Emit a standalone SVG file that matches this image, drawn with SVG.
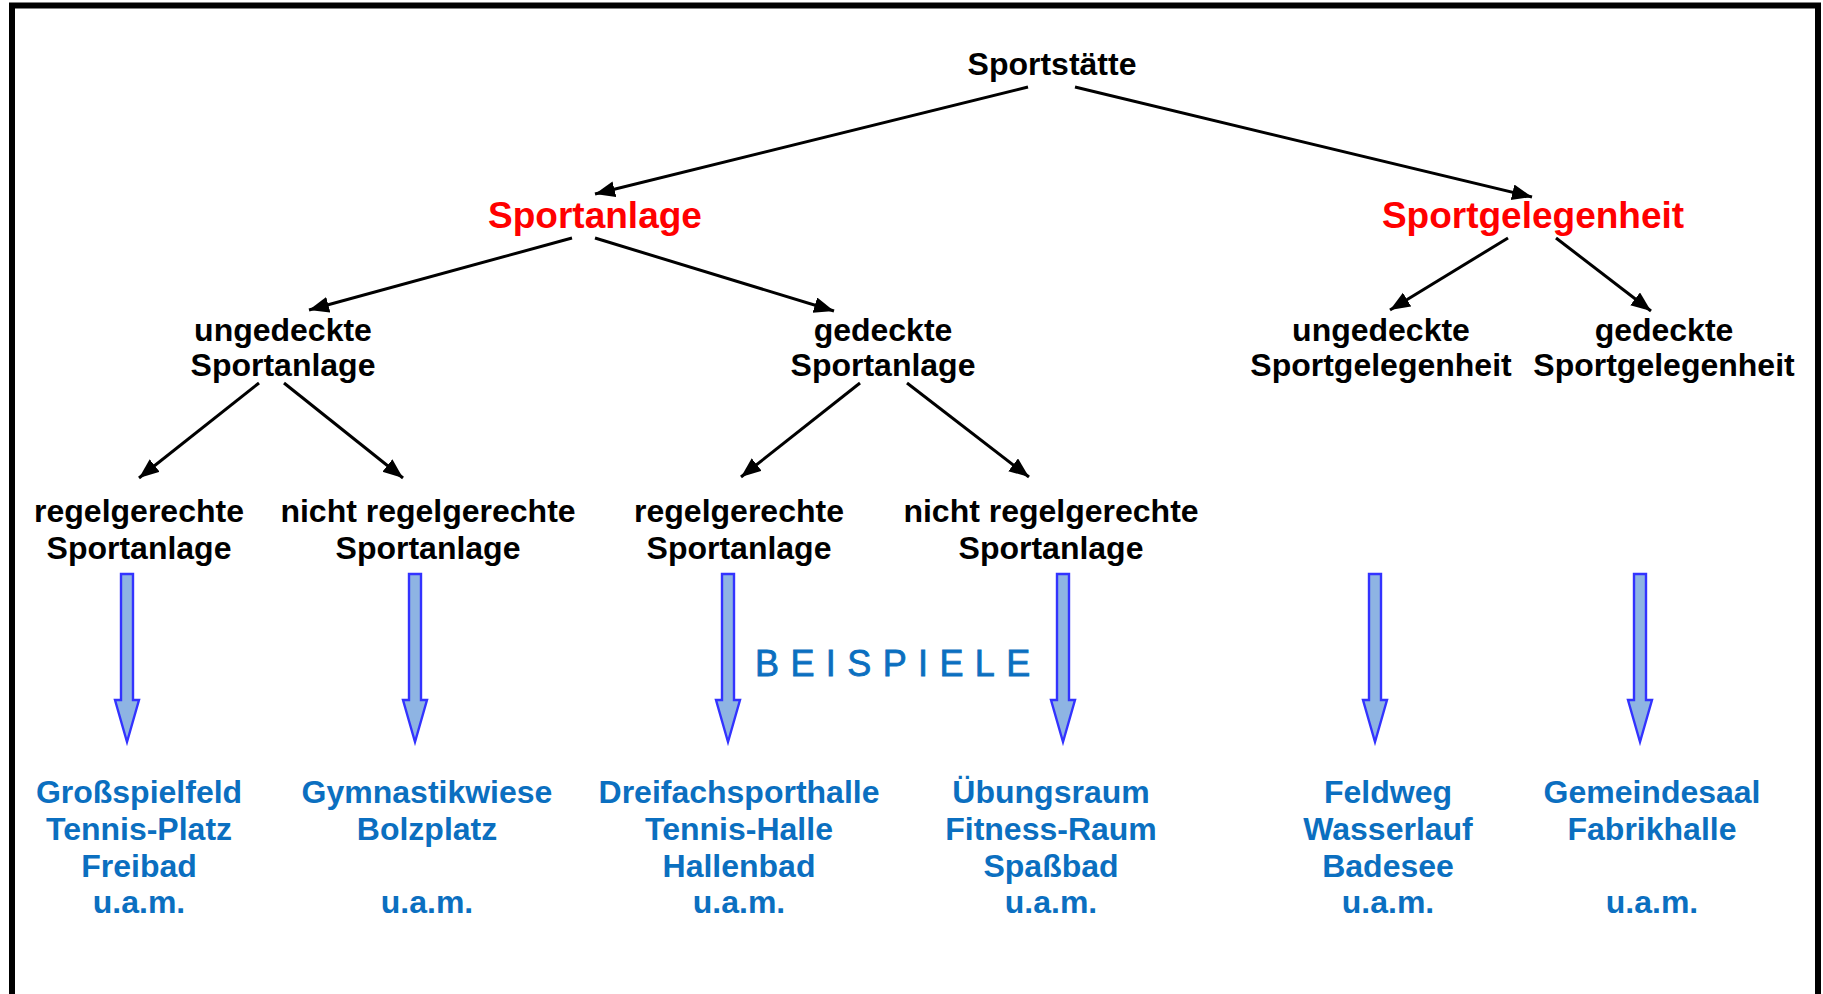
<svg xmlns="http://www.w3.org/2000/svg" width="1823" height="994" viewBox="0 0 1823 994">
  <style>
    text { font-family: "Liberation Sans", Arial, sans-serif; font-weight: bold; text-anchor: middle; }
    .lbl { font-size: 32px; fill: #000000; }
    .head { font-size: 37px; fill: #ff0000; }
    .ex { font-size: 32px; fill: #0b6fc0; }
    .beispiele { font-size: 36px; font-weight: normal; fill: #0b6fc0; stroke: #0b6fc0; stroke-width: 0.8; text-anchor: start; letter-spacing: 11.4px; }
    .edge { stroke: #000000; stroke-width: 3; fill: none; marker-end: url(#tip); }
    .down { fill: #8eb4e3; stroke: #3333ff; stroke-width: 2.4; stroke-linejoin: miter; }
  </style>
  <defs>
    <marker id="tip" markerUnits="userSpaceOnUse" markerWidth="22" markerHeight="18" refX="20" refY="8" orient="auto">
      <path d="M0,0 L20,8 L0,16 Z" fill="#000000"/>
    </marker>
    <path id="blockArrow" d="M-6,574 H6 V700 H12 L0,742 L-12,700 H-6 Z"/>
  </defs>

  <rect x="0" y="0" width="1823" height="994" fill="#ffffff"/>
  <!-- frame, open at the bottom -->
  <path d="M12,994 V5.5 H1818 V994" fill="none" stroke="#000000" stroke-width="6"/>

  <!-- tree connectors -->
  <g id="connectors">
    <line class="edge" x1="1028" y1="87" x2="595" y2="194"/>
    <line class="edge" x1="1075" y1="87" x2="1532" y2="197"/>
    <line class="edge" x1="572" y1="238" x2="309" y2="310"/>
    <line class="edge" x1="595" y1="238" x2="834" y2="311"/>
    <line class="edge" x1="1508" y1="238" x2="1390" y2="310"/>
    <line class="edge" x1="1556" y1="238" x2="1651" y2="311"/>
    <line class="edge" x1="259" y1="383" x2="139" y2="478"/>
    <line class="edge" x1="284" y1="383" x2="403" y2="478"/>
    <line class="edge" x1="860" y1="383" x2="741" y2="477"/>
    <line class="edge" x1="907" y1="383" x2="1029" y2="477"/>
    <!-- block arrows down to the examples -->
    <use href="#blockArrow" class="down" x="127"/>
    <use href="#blockArrow" class="down" x="415"/>
    <use href="#blockArrow" class="down" x="728"/>
    <use href="#blockArrow" class="down" x="1063"/>
    <use href="#blockArrow" class="down" x="1375"/>
    <use href="#blockArrow" class="down" x="1640"/>
  </g>

  <g id="n-sportstaette"><text class="lbl" x="1052" y="75">Sportstätte</text></g>
  <g id="n-sportanlage"><text class="head" x="595" y="228">Sportanlage</text></g>
  <g id="n-sportgelegenheit"><text class="head" x="1533" y="228">Sportgelegenheit</text></g>

  <g id="n-ungedeckte-sa"><text class="lbl" x="283" y="341">ungedeckte</text><text class="lbl" x="283" y="376">Sportanlage</text></g>
  <g id="n-gedeckte-sa"><text class="lbl" x="883" y="341">gedeckte</text><text class="lbl" x="883" y="376">Sportanlage</text></g>
  <g id="n-ungedeckte-sg"><text class="lbl" x="1381" y="341">ungedeckte</text><text class="lbl" x="1381" y="376">Sportgelegenheit</text></g>
  <g id="n-gedeckte-sg"><text class="lbl" x="1664" y="341">gedeckte</text><text class="lbl" x="1664" y="376">Sportgelegenheit</text></g>

  <g id="n-regel-u"><text class="lbl" x="139" y="522">regelgerechte</text><text class="lbl" x="139" y="559">Sportanlage</text></g>
  <g id="n-nichtregel-u"><text class="lbl" x="428" y="522">nicht regelgerechte</text><text class="lbl" x="428" y="559">Sportanlage</text></g>
  <g id="n-regel-g"><text class="lbl" x="739" y="522">regelgerechte</text><text class="lbl" x="739" y="559">Sportanlage</text></g>
  <g id="n-nichtregel-g"><text class="lbl" x="1051" y="522">nicht regelgerechte</text><text class="lbl" x="1051" y="559">Sportanlage</text></g>

  <g id="beispiele"><text class="beispiele" x="755" y="676">BEISPIELE</text></g>

  <g id="ex-1"><text class="ex" x="139" y="803">Großspielfeld</text><text class="ex" x="139" y="840">Tennis-Platz</text><text class="ex" x="139" y="877">Freibad</text><text class="ex" x="139" y="913">u.a.m.</text></g>
  <g id="ex-2"><text class="ex" x="427" y="803">Gymnastikwiese</text><text class="ex" x="427" y="840">Bolzplatz</text><text class="ex" x="427" y="913">u.a.m.</text></g>
  <g id="ex-3"><text class="ex" x="739" y="803">Dreifachsporthalle</text><text class="ex" x="739" y="840">Tennis-Halle</text><text class="ex" x="739" y="877">Hallenbad</text><text class="ex" x="739" y="913">u.a.m.</text></g>
  <g id="ex-4"><text class="ex" x="1051" y="803">Übungsraum</text><text class="ex" x="1051" y="840">Fitness-Raum</text><text class="ex" x="1051" y="877">Spaßbad</text><text class="ex" x="1051" y="913">u.a.m.</text></g>
  <g id="ex-5"><text class="ex" x="1388" y="803">Feldweg</text><text class="ex" x="1388" y="840">Wasserlauf</text><text class="ex" x="1388" y="877">Badesee</text><text class="ex" x="1388" y="913">u.a.m.</text></g>
  <g id="ex-6"><text class="ex" x="1652" y="803">Gemeindesaal</text><text class="ex" x="1652" y="840">Fabrikhalle</text><text class="ex" x="1652" y="913">u.a.m.</text></g>
</svg>
